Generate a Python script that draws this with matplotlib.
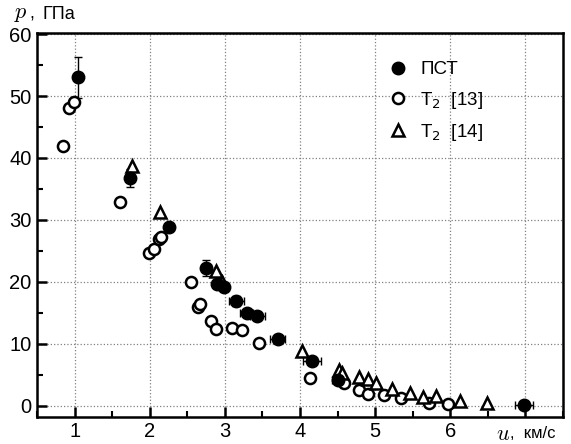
import numpy as np
import matplotlib.pyplot as plt
from matplotlib.ticker import MultipleLocator, FixedLocator

# ПСТ (filled circles, with error bars)
pst_u = [1.05, 1.73, 2.26, 2.75, 2.90, 2.99, 3.15, 3.29, 3.43, 3.70, 4.16, 4.50, 6.98]
pst_p = [53.0, 36.8, 28.9, 22.3, 19.7, 19.1, 16.9, 15.0, 14.5, 10.7, 7.2, 4.1, 0.2]
pst_du = [0, 0, 0, 0.06, 0, 0, 0.10, 0.09, 0.10, 0.10, 0.12, 0.08, 0.12]
pst_dp = [3.3, 1.5, 0, 1.3, 0, 0, 0.8, 0, 0, 0, 0, 0, 0]

# T2 [13] (open circles)
t13_u = [0.84, 0.93, 0.99, 1.60, 1.99, 2.05, 2.12, 2.15, 2.55, 2.64, 2.67, 2.81, 2.88,
         3.09, 3.23, 3.46, 4.13, 4.59, 4.79, 4.90, 5.12, 5.34, 5.72, 5.97]
t13_p = [42.0, 48.0, 49.0, 32.9, 24.6, 25.3, 26.9, 27.2, 20.0, 16.0, 16.4, 13.7, 12.4,
         12.5, 12.2, 10.1, 4.5, 3.6, 2.5, 1.9, 1.8, 1.2, 0.5, 0.3]

# T2 [14] (open triangles)
t14_u = [1.76, 2.13, 2.88, 2.96, 4.03, 4.52, 4.56, 4.79, 4.90, 5.01, 5.23, 5.47, 5.63,
         5.81, 6.13, 6.49]
t14_p = [38.7, 31.2, 21.7, 20.0, 8.9, 5.8, 5.3, 4.6, 4.4, 3.7, 2.7, 2.0, 1.35,
         1.5, 0.85, 0.4]

plt.rcParams['font.family'] = 'Liberation Sans'

fig = plt.figure(figsize=(5.71, 4.44), dpi=100)
ax = fig.add_axes([0.065, 0.061, 0.921, 0.865])

ax.grid(True, which='major', linestyle=':', color='gray', linewidth=0.9)
ax.set_axisbelow(True)

ax.errorbar(pst_u, pst_p, xerr=pst_du, yerr=pst_dp, fmt='none', ecolor='black',
            elinewidth=1, capsize=3, zorder=2)
ax.plot(t13_u, t13_p, 'o', mfc='white', mec='black', mew=1.8, ms=8, zorder=3,
        label='T$_2$  [13]')
ax.plot(t14_u, t14_p, '^', mfc='white', mec='black', mew=1.8, ms=8.5, zorder=3,
        label='T$_2$  [14]')
ax.plot(pst_u, pst_p, 'o', color='black', ms=9, zorder=4, label='ПСТ')

ax.set_xlim(0.5, 7.5)
ax.set_ylim(-1.8, 60.2)
ax.xaxis.set_major_locator(FixedLocator([1, 2, 3, 4, 5, 6, 7]))
ax.set_xticklabels(['1', '2', '3', '4', '5', '6', ''])
ax.xaxis.set_minor_locator(MultipleLocator(0.5))
ax.yaxis.set_major_locator(MultipleLocator(10))
ax.yaxis.set_minor_locator(MultipleLocator(5))
ax.tick_params(which='major', direction='in', length=7, width=1.8, labelsize=14.5,
               top=False, right=False, pad=4)
ax.tick_params(which='minor', direction='in', length=4, width=1.5, top=False, right=False)
for s in ax.spines.values():
    s.set_linewidth(1.8)

h, l = ax.get_legend_handles_labels()
order = [2, 0, 1]
ax.legend([h[i] for i in order], [l[i] for i in order], loc='upper right',
          bbox_to_anchor=(0.88, 0.97), frameon=False, fontsize=13.5,
          handletextpad=0.6, labelspacing=0.6, handlelength=1.2)

fig.text(0.025, 0.970, '$p$', fontsize=16, math_fontfamily='cm', va='center')
fig.text(0.052, 0.968, ',', fontsize=13, va='center')
fig.text(0.075, 0.968, 'ГПа', fontsize=13, va='center')
fig.text(0.868, 0.022, '$u$', fontsize=16, math_fontfamily='cm', va='center')
fig.text(0.893, 0.024, ',  км/с', fontsize=12, va='center')

fig.savefig('out.png', dpi=100)
